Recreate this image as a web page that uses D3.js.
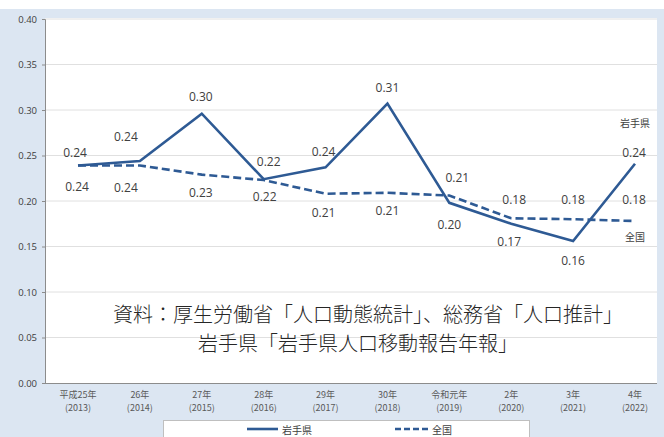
<!DOCTYPE html>
<html>
<head>
<meta charset="utf-8">
<script src="https://cdn.jsdelivr.net/npm/d3@7"></script>
<style>
  html, body { margin: 0; padding: 0; background: #fff; }
  svg { display: block; font-family: "Noto Sans CJK JP", "Noto Sans", sans-serif; }
</style>
</head>
<body>
<div id="chart"></div>
<script>
// categories (two-line tick labels)
const eraLabels = ["平成25年", "26年", "27年", "28年", "29年", "30年", "令和元年", "2年", "3年", "4年"]
const yearLabels = ["(2013)", "(2014)", "(2015)", "(2016)", "(2017)", "(2018)", "(2019)", "(2020)", "(2021)", "(2022)"]
// series values
const iwate = [0.239, 0.244, 0.296, 0.224, 0.237, 0.307, 0.198, 0.175, 0.156, 0.241]
const national = [0.239, 0.239, 0.229, 0.223, 0.208, 0.209, 0.206, 0.181, 0.180, 0.178]
// label text as shown
const iwateText = ["0.24", "0.24", "0.30", "0.22", "0.24", "0.31", "0.20", "0.17", "0.16", "0.24"]
const nationalText = ["0.24", "0.24", "0.23", "0.22", "0.21", "0.21", "0.21", "0.18", "0.18", "0.18"]
const yTicks = [0, 0.05, 0.10, 0.15, 0.20, 0.25, 0.30, 0.35, 0.40]

// label placement (offsets from the point)
const iwateDx = [-3, -14, -1, 5, -2, 0, 0, -2, 0, -1]
const iwateDy = [-13, -24, -17, -18, -16, -16, 22, 18, 19, -11]
const nationalDx = [-1, -14, -1, 1, -2, 0, 8, 3, 0, -1]
const nationalDy = [21, 22, 18, 16, 19, 18, -18, -19, -20, -22]

const W = 664, H = 437
const plot = { left: 45, right: 657, top: 18, bottom: 383 }
const blue = "#2e5a94", textCol = "#404040"

const svg = d3.select("#chart").append("svg").attr("width", W).attr("height", H)

svg.append("rect").attr("width", W).attr("height", H).attr("fill", "#dce6f2")
svg.append("rect").attr("width", W).attr("height", 9).attr("fill", "#fff")
svg.append("rect").attr("x", plot.left).attr("y", plot.top)
    .attr("width", plot.right - plot.left).attr("height", plot.bottom - plot.top).attr("fill", "#fff")

const x = d3.scalePoint().domain(d3.range(eraLabels.length)).range([78, 635])
const y = d3.scaleLinear().domain([0, 0.4]).range([plot.bottom, 19])

// gridlines
svg.append("g").selectAll("line").data(yTicks.slice(1)).join("line")
    .attr("x1", plot.left).attr("x2", plot.right)
    .attr("y1", d => y(d)).attr("y2", d => y(d))
    .attr("stroke", "#e0e0e0").attr("stroke-width", 1)

// y axis
const yAxis = svg.append("g").attr("transform", `translate(${plot.left},0)`)
    .call(d3.axisLeft(y).tickValues(yTicks).tickFormat(d3.format(".2f")).tickSize(3).tickPadding(5))
yAxis.select(".domain").attr("stroke", "#8c8c8c")
yAxis.selectAll(".tick line").attr("stroke", "#8c8c8c")
yAxis.selectAll("text").attr("fill", textCol).attr("font-size", 9.5)
    .attr("font-family", "'Open Sans', 'Noto Sans', sans-serif")

// x axis line
svg.append("line").attr("x1", plot.left).attr("x2", plot.right)
    .attr("y1", plot.bottom + 0.5).attr("y2", plot.bottom + 0.5).attr("stroke", "#8c8c8c")

const xl = svg.append("g").selectAll("text").data(eraLabels).join("text")
    .attr("x", (d, i) => x(i)).attr("y", 398)
    .attr("text-anchor", "middle").attr("font-size", 9).attr("fill", "#595959")
xl.append("tspan").attr("x", (d, i) => x(i)).text(d => d)
xl.append("tspan").attr("x", (d, i) => x(i)).attr("dy", 13).text((d, i) => yearLabels[i])

// lines
const line = d3.line().x((d, i) => x(i)).y(d => y(d))
svg.append("path").datum(national).attr("d", line).attr("fill", "none")
    .attr("stroke", blue).attr("stroke-width", 2.6).attr("stroke-dasharray", "8,4")
svg.append("path").datum(iwate).attr("d", line).attr("fill", "none")
    .attr("stroke", blue).attr("stroke-width", 2.6).attr("stroke-linejoin", "miter")

// data labels
function labels(vals, txt, dx, dy) {
    svg.append("g").selectAll("text").data(vals).join("text")
        .attr("x", (d, i) => x(i) + dx[i]).attr("y", (d, i) => y(d) + dy[i])
        .attr("text-anchor", "middle").attr("dominant-baseline", "central")
        .attr("font-size", 12).attr("fill", textCol)
        .attr("font-family", "'Open Sans', 'Noto Sans', sans-serif")
        .text((d, i) => txt[i])
}
labels(iwate, iwateText, iwateDx, iwateDy)
labels(national, nationalText, nationalDx, nationalDy)

// series names at the right end
const last = eraLabels.length - 1
svg.append("text").attr("x", x(last)).attr("y", y(iwate[last]) - 41)
    .attr("text-anchor", "middle").attr("dominant-baseline", "central")
    .attr("font-size", 10).attr("fill", textCol).text("岩手県")
svg.append("text").attr("x", x(last)).attr("y", y(national[last]) + 15)
    .attr("text-anchor", "middle").attr("dominant-baseline", "central")
    .attr("font-size", 10).attr("fill", textCol).text("全国")

// source note
svg.append("text").attr("x", 113).attr("y", 313).attr("dominant-baseline", "central")
    .attr("font-size", 20).attr("font-weight", 300).attr("fill", "#262626")
    .text("資料：厚生労働省「人口動態統計」、総務省「人口推計」")
svg.append("text").attr("x", 198).attr("y", 342).attr("dominant-baseline", "central")
    .attr("font-size", 20).attr("font-weight", 300).attr("fill", "#262626")
    .text("岩手県「岩手県人口移動報告年報」")

// legend
const lg = svg.append("g")
lg.append("rect").attr("x", 163.5).attr("y", 420.5).attr("width", 366).attr("height", 30)
    .attr("fill", "#fff").attr("stroke", "#bfbfbf")
lg.append("line").attr("x1", 247).attr("x2", 278).attr("y1", 429).attr("y2", 429)
    .attr("stroke", blue).attr("stroke-width", 2.6)
lg.append("text").attr("x", 282).attr("y", 429).attr("dominant-baseline", "central")
    .attr("font-size", 10).attr("fill", textCol).text("岩手県")
lg.append("line").attr("x1", 395).attr("x2", 428).attr("y1", 429).attr("y2", 429)
    .attr("stroke", blue).attr("stroke-width", 2.6).attr("stroke-dasharray", "6,3")
lg.append("text").attr("x", 432).attr("y", 429).attr("dominant-baseline", "central")
    .attr("font-size", 10).attr("fill", textCol).text("全国")
</script>
</body>
</html>
